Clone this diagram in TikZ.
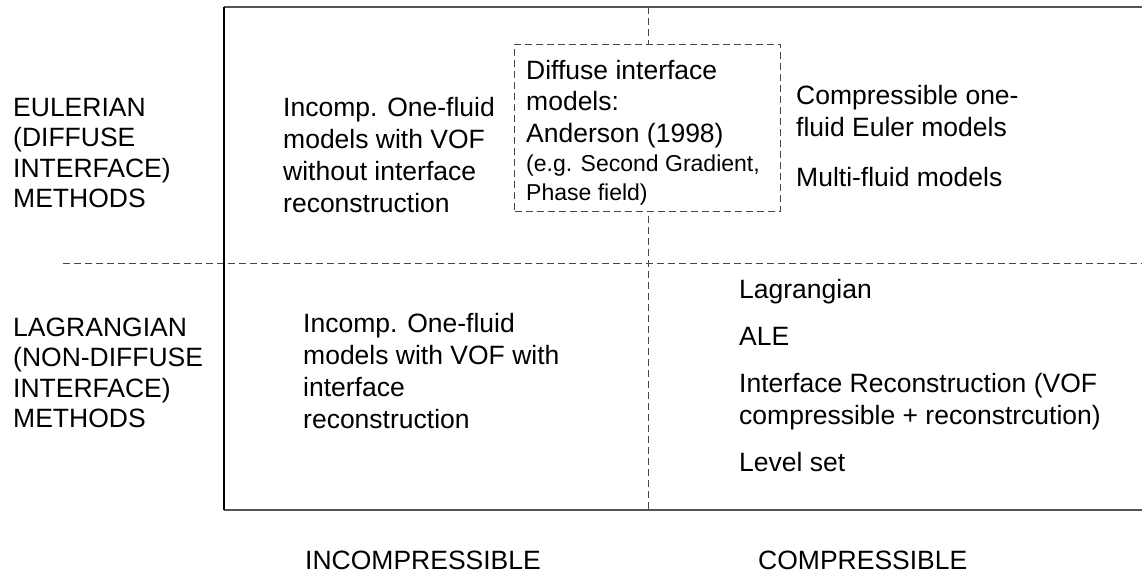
\documentclass[tikz,border=0pt]{standalone}
\usepackage{fontspec}
\setmainfont{Liberation Sans}
\begin{document}
\begin{tikzpicture}[x=1pt,y=-1pt,
  lbl/.style={anchor=base west,inner sep=0pt,align=left,font=\fontsize{26.5}{32}\selectfont},
  side/.style={lbl,font=\fontsize{26.5}{30.3}\selectfont},
  small/.style={lbl,font=\fontsize{23}{29}\selectfont},
  frame/.style={draw=black!67,line width=2pt},
  border/.style={draw=black,line width=1.4pt},
  divider/.style={draw=black!72,line width=1pt,dash pattern=on 7pt off 4pt}]
\useasboundingbox (0,0) rectangle (1142,577);
% corners
\coordinate (tl) at (224,7);
\coordinate (tr) at (1142,7);
\coordinate (bl) at (224,510);
\coordinate (br) at (1142,510);
\coordinate (vt) at (648,7);
\coordinate (vb) at (648,510);
\coordinate (hl) at (63,263);
\coordinate (hr) at (1142,263);
% dividers
\draw[divider] (vt) -- (vb);
\draw[divider] (hl) -- (hr);
% frame
\draw[frame] (tl) -- (tr);
\draw[frame] (bl) -- (br);
\draw[border] (tl) -- (bl);
% dashed box
\node[divider,fill=white,inner sep=0pt,minimum width=266pt,minimum height=167pt,anchor=north west] (dbox) at (514,44) {};
% left labels (base anchor = last line)
\node[side] (eul) at (13,207.4) {EULERIAN\\(DIFFUSE\\INTERFACE)\\METHODS};
\node[side] (lag) at (13,427.4) {LAGRANGIAN\\(NON-DIFFUSE\\INTERFACE)\\METHODS};
% quadrants
\node[lbl] (q1) at (283,212.5) {Incomp. One-fluid\\models with VOF\\without interface\\reconstruction};
\node[lbl,font=\fontsize{26.5}{31.5}\selectfont] (d1) at (526,142.5) {Diffuse interface\\models:\\Anderson (1998)};
\node[small] (d2) at (526,200.5) {(e.g. Second Gradient,\\Phase field)};
\node[lbl] (q2a) at (796,136.5) {Compressible one-\\fluid Euler models};
\node[lbl] (q2b) at (796,186.5) {Multi-fluid models};
\node[lbl] (q3) at (303,428.5) {Incomp. One-fluid\\models with VOF with\\interface\\reconstruction};
\node[lbl] (q4a) at (739,298.5) {Lagrangian};
\node[lbl] (q4b) at (739,345.5) {ALE};
\node[lbl] (q4c) at (739,424.5) {Interface Reconstruction (VOF\\compressible + reconstrcution)};
\node[lbl] (q4d) at (739,471.5) {Level set};
% bottom labels
\node[lbl] (inc) at (305,569.5) {INCOMPRESSIBLE};
\node[lbl] (com) at (758,569.5) {COMPRESSIBLE};
\end{tikzpicture}
\end{document}
